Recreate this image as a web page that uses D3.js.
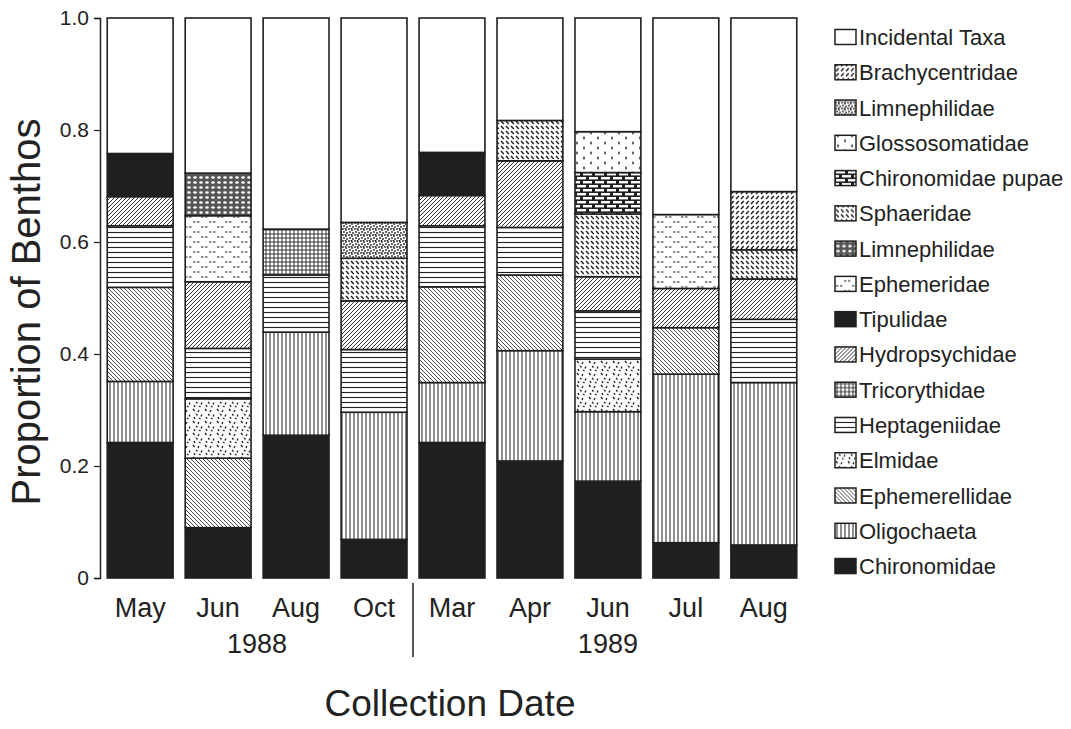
<!DOCTYPE html>
<html>
<head>
<meta charset="utf-8">
<script src="https://cdn.jsdelivr.net/npm/d3@7"></script>
<style>
  body { margin: 0; background: #fff; }
  text { font-family: "Liberation Sans", Arial, Helvetica, sans-serif; fill: #222; }
</style>
</head>
<body>
<div id="chart"></div>
<script>
// collection dates
const months = ['May', 'Jun', 'Aug', 'Oct', 'Mar', 'Apr', 'Jun', 'Jul', 'Aug'];
const years = ['1988', '1988', '1988', '1988', '1989', '1989', '1989', '1989', '1989'];
const yTicks = [0, 0.2, 0.4, 0.6, 0.8, 1.0];

// proportions per taxon, one value per collection date
const chironomidae      = [0.242, 0.090, 0.255, 0.069, 0.242, 0.209, 0.173, 0.063, 0.059];
const oligochaeta       = [0.109, 0,     0.184, 0.227, 0.107, 0.197, 0.124, 0.301, 0.290];
const ephemerellidae    = [0.168, 0.124, 0,     0,     0.171, 0.135, 0,     0.083, 0];
const elmidae           = [0,     0.106, 0,     0,     0,     0,     0.094, 0,     0];
const heptageniidae     = [0.110, 0.090, 0.102, 0.112, 0.109, 0.085, 0.086, 0,     0.113];
const tricorythidae     = [0,     0,     0.082, 0,     0,     0,     0,     0,     0];
const hydropsychidae    = [0.052, 0.119, 0,     0.087, 0.054, 0.119, 0.061, 0.070, 0.072];
const tipulidae         = [0.077, 0,     0,     0,     0.077, 0,     0,     0,     0];
const ephemeridae       = [0,     0.118, 0,     0,     0,     0,     0,     0.132, 0];
const limnephilidaeB    = [0,     0.076, 0,     0,     0,     0,     0,     0,     0];
const sphaeridae        = [0,     0,     0,     0.076, 0,     0.072, 0.112, 0,     0.052];
const chironomidaePupae = [0,     0,     0,     0,     0,     0,     0.074, 0,     0];
const glossosomatidae   = [0,     0,     0,     0,     0,     0,     0.073, 0,     0];
const limnephilidaeA    = [0,     0,     0,     0.064, 0,     0,     0,     0,     0];
const brachycentridae   = [0,     0,     0,     0,     0,     0,     0,     0,     0.104];
const incidentalTaxa    = [0.242, 0.277, 0.377, 0.365, 0.240, 0.183, 0.203, 0.351, 0.310];

// stacking order, bottom to top
const taxa = [
  { key: 'chir', name: 'Chironomidae', values: chironomidae, fill: 'solid' },
  { key: 'olig', name: 'Oligochaeta', values: oligochaeta, fill: 'vert' },
  { key: 'ephl', name: 'Ephemerellidae', values: ephemerellidae, fill: 'back' },
  { key: 'elmi', name: 'Elmidae', values: elmidae, fill: 'elmi' },
  { key: 'hept', name: 'Heptageniidae', values: heptageniidae, fill: 'horiz' },
  { key: 'tric', name: 'Tricorythidae', values: tricorythidae, fill: 'grid' },
  { key: 'hydr', name: 'Hydropsychidae', values: hydropsychidae, fill: 'fwd' },
  { key: 'tipu', name: 'Tipulidae', values: tipulidae, fill: 'solid' },
  { key: 'ephm', name: 'Ephemeridae', values: ephemeridae, fill: 'ephm' },
  { key: 'limB', name: 'Limnephilidae', values: limnephilidaeB, fill: 'rings' },
  { key: 'spha', name: 'Sphaeridae', values: sphaeridae, fill: 'dashBack' },
  { key: 'pupa', name: 'Chironomidae pupae', values: chironomidaePupae, fill: 'brick' },
  { key: 'glos', name: 'Glossosomatidae', values: glossosomatidae, fill: 'glos' },
  { key: 'limA', name: 'Limnephilidae', values: limnephilidaeA, fill: 'speck' },
  { key: 'brac', name: 'Brachycentridae', values: brachycentridae, fill: 'dashFwd' },
  { key: 'inci', name: 'Incidental Taxa', values: incidentalTaxa, fill: 'none' }
];

const ink = '#1f1f1f';
const W = 1071, H = 729;

const svg = d3.select('#chart').append('svg')
  .attr('width', W)
  .attr('height', H);

const defs = svg.append('defs');

function addPattern(id, w, h, draw) {
  const p = defs.append('pattern')
    .attr('id', 'p-' + id)
    .attr('patternUnits', 'userSpaceOnUse')
    .attr('width', w)
    .attr('height', h);
  p.append('rect').attr('width', w).attr('height', h).attr('fill', '#fff');
  draw(p);
}
const line = (p, d, sw) => p.append('path').attr('d', d).attr('stroke', ink)
  .attr('stroke-width', sw).attr('fill', 'none');

addPattern('vert', 4, 4, p => line(p, 'M2,0V4', 1));
addPattern('horiz', 4, 5, p => line(p, 'M0,2.5H4', 1.1));
addPattern('back', 4, 4, p => line(p, 'M-1,-1L5,5M-1,3L1,5M3,-1L5,1', 0.8));
addPattern('fwd', 4, 4, p => line(p, 'M-1,5L5,-1M-1,1L1,-1M3,5L5,3', 0.9));
addPattern('grid', 4, 4, p => line(p, 'M0,2H4M2,0V4', 0.9));
addPattern('elmi', 12, 12, p => line(p,
  'M1,1l1.5,2M7,2l-1,2M4,6l1.5,1.5M10,6.5l-1,2M2,9l1,2M7,10l1.5,1', 1.3));
addPattern('ephm', 16, 10, p => line(p, 'M1,2h2.5M5,2h2.5M9,7h2.5M13,7h2.5', 1));
addPattern('rings', 6, 5, p => {
  p.append('rect').attr('width', 6).attr('height', 5).attr('fill', '#555');
  p.append('ellipse').attr('cx', 3).attr('cy', 2.5).attr('rx', 1.8).attr('ry', 1.2)
    .attr('fill', '#fff');
});
addPattern('speck', 6, 6, p => {
  [[1, 1], [4, 2], [2, 4], [5, 5], [3.5, 0.5]].forEach(([x, y]) =>
    p.append('circle').attr('cx', x).attr('cy', y).attr('r', 0.9).attr('fill', ink));
});
addPattern('dashBack', 5, 5, p => line(p, 'M1,1L3.8,4', 1.4));
addPattern('dashFwd', 5, 5, p => line(p, 'M1,4L3.8,1', 1.4));
addPattern('brick', 12, 8, p => {
  p.append('rect').attr('width', 12).attr('height', 8).attr('fill', ink);
  [[1, 1, 9], [7, 5, 5], [0, 5, 4]].forEach(([x, y, w]) =>
    p.append('rect').attr('x', x).attr('y', y).attr('width', w).attr('height', 2.4).attr('fill', '#fff'));
});
addPattern('glos', 14, 10, p => line(p, 'M3,1.5v3M2,3h2M10,6.5v3M9,8h2', 0.9));

const fillOf = t => t.fill === 'solid' ? ink : t.fill === 'none' ? '#fff' : 'url(#p-' + t.fill + ')';

// scales
const x = d3.scaleBand()
  .domain(d3.range(months.length))
  .range([101, 803])
  .paddingInner(0.155)
  .paddingOuter(0.08);

const y = d3.scaleLinear().domain([0, 1]).range([578, 18]);

// stacked data
const table = months.map((m, i) => {
  const row = { i };
  taxa.forEach(t => { row[t.key] = t.values[i]; });
  return row;
});
const series = d3.stack().keys(taxa.map(t => t.key))(table);

// y axis
const yAxis = d3.axisLeft(y)
  .tickValues(yTicks)
  .tickSize(6)
  .tickPadding(5)
  .tickFormat(d => d === 0 ? '0' : d3.format('.1f')(d));

const gY = svg.append('g')
  .attr('transform', 'translate(100,0)')
  .call(yAxis);
gY.select('.domain').attr('stroke', ink).attr('stroke-width', 1.5);
gY.selectAll('.tick line').attr('stroke', ink).attr('stroke-width', 1.2);
gY.selectAll('.tick text')
  .attr('font-size', 21)
  .attr('fill', '#222')
  .style('font-family', '"Liberation Sans", Arial, sans-serif');

// bars
const layers = svg.append('g').selectAll('g')
  .data(series)
  .join('g')
  .attr('fill', (s, k) => fillOf(taxa[k]));

layers.selectAll('rect')
  .data(s => s.filter(d => d[1] - d[0] > 0))
  .join('rect')
  .attr('x', d => x(d.data.i))
  .attr('width', x.bandwidth())
  .attr('y', d => y(d[1]))
  .attr('height', d => y(d[0]) - y(d[1]))
  .attr('stroke', ink)
  .attr('stroke-width', 1.6);

// x labels
svg.append('g').selectAll('text')
  .data(months)
  .join('text')
  .attr('x', (d, i) => x(i) + x.bandwidth() / 2)
  .attr('y', 617)
  .attr('text-anchor', 'middle')
  .attr('font-size', 27)
  .text(d => d);

const yearGroups = d3.groups(d3.range(months.length), i => years[i]);
svg.append('g').selectAll('text')
  .data(yearGroups)
  .join('text')
  .attr('x', ([, idx]) => (x(idx[0]) + x(idx[idx.length - 1]) + x.bandwidth()) / 2)
  .attr('y', 653)
  .attr('text-anchor', 'middle')
  .attr('font-size', 27)
  .text(([yr]) => yr);

// divider between the two years
const splitAt = years.indexOf('1989');
const divX = (x(splitAt - 1) + x.bandwidth() + x(splitAt)) / 2;
svg.append('line')
  .attr('x1', divX).attr('x2', divX)
  .attr('y1', 583).attr('y2', 657)
  .attr('stroke', ink)
  .attr('stroke-width', 1.5);

// axis titles
svg.append('text')
  .attr('transform', 'translate(40,312) rotate(-90)')
  .attr('text-anchor', 'middle')
  .attr('font-size', 40)
  .text('Proportion of Benthos');

svg.append('text')
  .attr('x', 450)
  .attr('y', 716)
  .attr('text-anchor', 'middle')
  .attr('font-size', 37)
  .text('Collection Date');

// legend, top entry is the top of the stack
const legendTaxa = taxa.slice().reverse();
const legend = svg.append('g').selectAll('g')
  .data(legendTaxa)
  .join('g')
  .attr('transform', (d, i) => `translate(835,${37 + i * 35.27})`);

legend.append('rect')
  .attr('x', 0).attr('y', -7.5)
  .attr('width', 21).attr('height', 15)
  .attr('fill', d => fillOf(d))
  .attr('stroke', ink)
  .attr('stroke-width', 1.5);

legend.append('text')
  .attr('x', 24)
  .attr('y', 8)
  .attr('font-size', 22)
  .text(d => d.name);
</script>
</body>
</html>
